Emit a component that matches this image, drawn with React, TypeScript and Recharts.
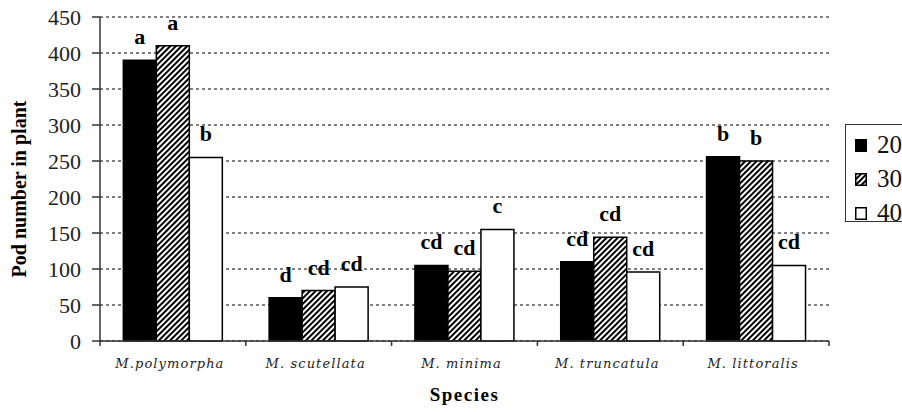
import React from 'react';
import { BarChart, Bar, XAxis, YAxis, CartesianGrid, LabelList, Label } from 'recharts';

const categories = ['M.polymorpha', 'M. scutellata', 'M. minima', 'M. truncatula', 'M. littoralis'];
const s20 = [390, 60, 105, 110, 256];
const s30 = [410, 70, 97, 144, 250];
const s40 = [255, 75, 155, 96, 105];
const l20 = ['a', 'd', 'cd', 'cd', 'b'];
const l30 = ['a', 'cd', 'cd', 'cd', 'b'];
const l40 = ['b', 'cd', 'c', 'cd', 'cd'];
const yTicks = [0, 50, 100, 150, 200, 250, 300, 350, 400, 450];
const seriesNames = ['20', '30', '40'];

const data = categories.map((c, i) => ({
  name: c,
  s20: s20[i],
  s30: s30[i],
  s40: s40[i],
  l20: l20[i],
  l30: l30[i],
  l40: l40[i],
}));

const SERIF = '"Liberation Serif", "Times New Roman", serif';

const XTick = (props: any) => {
  const { x, y, payload, index, visibleTicksCount } = props;
  const half = payload && payload.offset ? payload.offset : 73;
  return (
    <g>
      <line x1={x - half} y1={y} x2={x - half} y2={y + 5} stroke="#333" strokeWidth={1.5} />
      {index === (visibleTicksCount ?? categories.length) - 1 && (
        <line x1={x + half} y1={y} x2={x + half} y2={y + 5} stroke="#333" strokeWidth={1.5} />
      )}
      <text
        x={x - 3}
        y={y + 27}
        textAnchor="middle"
        fontFamily='"DejaVu Serif", serif'
        fontStyle="italic"
        fontSize={13}
        letterSpacing={1.1}
        fill="#222"
      >
        {payload.value}
      </text>
    </g>
  );
};

const YTitle = (props: any) => {
  const vb = props.viewBox || { x: 8, y: 17, width: 92, height: 324 };
  const cx = vb.x + 11;
  const cy = vb.y + vb.height / 2 + 10;
  return (
    <text
      x={cx}
      y={cy}
      transform={`rotate(-90 ${cx} ${cy})`}
      textAnchor="middle"
      dominantBaseline="central"
      fontFamily={SERIF}
      fontWeight="bold"
      fontSize={20}
      fill="#000"
    >
      Pod number in plant
    </text>
  );
};

const LegendBox = () => {
  const fills = ['#000', 'url(#hatch)', '#fff'];
  return (
    <div
      style={{
        position: 'absolute',
        left: 845,
        top: 124,
        border: '1px solid #333',
        width: 90,
        height: 98,
        boxSizing: 'border-box',
        background: '#fff',
      }}
    >
      {seriesNames.map((n, i) => (
        <div
          key={n}
          style={{
            position: 'absolute',
            left: 9,
            top: 12 + i * 34,
            height: 16,
            display: 'flex',
            alignItems: 'center',
          }}
        >
          <svg width={12} height={13} style={{ display: 'block' }}>
            <rect x={0.75} y={0.75} width={10.5} height={11.5} fill={fills[i]} stroke="#000" strokeWidth={1.5} />
          </svg>
          <span style={{ marginLeft: 10, fontFamily: SERIF, fontSize: 25, lineHeight: '16px', color: '#111' }}>{n}</span>
        </div>
      ))}
    </div>
  );
};

const labelStyle = { fontFamily: SERIF, fontWeight: 'bold' as const, fontSize: 22, fill: '#000' };

export default function App() {
  return (
    <div style={{ width: 902, height: 412, overflow: 'hidden', position: 'relative' }}>
      <style>{'html,body{margin:0;padding:0;overflow:hidden;}'}</style>
      <BarChart
        width={902}
        height={412}
        data={data}
        margin={{ top: 17, right: 73, bottom: 7, left: 8 }}
        barCategoryGap="16%"
        barGap={0}
      >
        <defs>
          <pattern id="hatch" width={4} height={4} patternUnits="userSpaceOnUse" patternTransform="rotate(45)">
            <rect width={4} height={4} fill="#fff" />
            <line x1={1} y1={0} x2={1} y2={4} stroke="#000" strokeWidth={2} />
          </pattern>
        </defs>
        <CartesianGrid vertical={false} stroke="#000" strokeDasharray="3 3" strokeWidth={1} />
        <XAxis
          dataKey="name"
          height={64}
          tickLine={false}
          tickSize={0}
          tickMargin={0}
          interval={0}
          axisLine={{ stroke: '#333', strokeWidth: 1.5 }}
          tick={<XTick />}
        >
          <Label
            value="Species"
            position="insideBottom"
            offset={4}
            style={{ fontFamily: SERIF, fontWeight: 'bold', fontSize: 19, letterSpacing: 1.5, fill: '#000' }}
          />
        </XAxis>
        <YAxis
          width={92}
          domain={[0, 450]}
          ticks={yTicks}
          interval={0}
          tickSize={8}
          tickMargin={11}
          axisLine={{ stroke: '#333', strokeWidth: 1.5 }}
          tickLine={{ stroke: '#333', strokeWidth: 1.5 }}
          tick={{ fontFamily: SERIF, fontSize: 22, fill: '#222' }}
          label={<YTitle />}
        />
        <Bar dataKey="s20" name={seriesNames[0]} fill="#000" stroke="#000" strokeWidth={1.5} isAnimationActive={false}>
          <LabelList dataKey="l20" position="top" offset={16} style={labelStyle} />
        </Bar>
        <Bar dataKey="s30" name={seriesNames[1]} fill="url(#hatch)" stroke="#000" strokeWidth={1.5} isAnimationActive={false}>
          <LabelList dataKey="l30" position="top" offset={16} style={labelStyle} />
        </Bar>
        <Bar dataKey="s40" name={seriesNames[2]} fill="#fff" stroke="#000" strokeWidth={1.5} isAnimationActive={false}>
          <LabelList dataKey="l40" position="top" offset={16} style={labelStyle} />
        </Bar>
      </BarChart>
      <LegendBox />
    </div>
  );
}
